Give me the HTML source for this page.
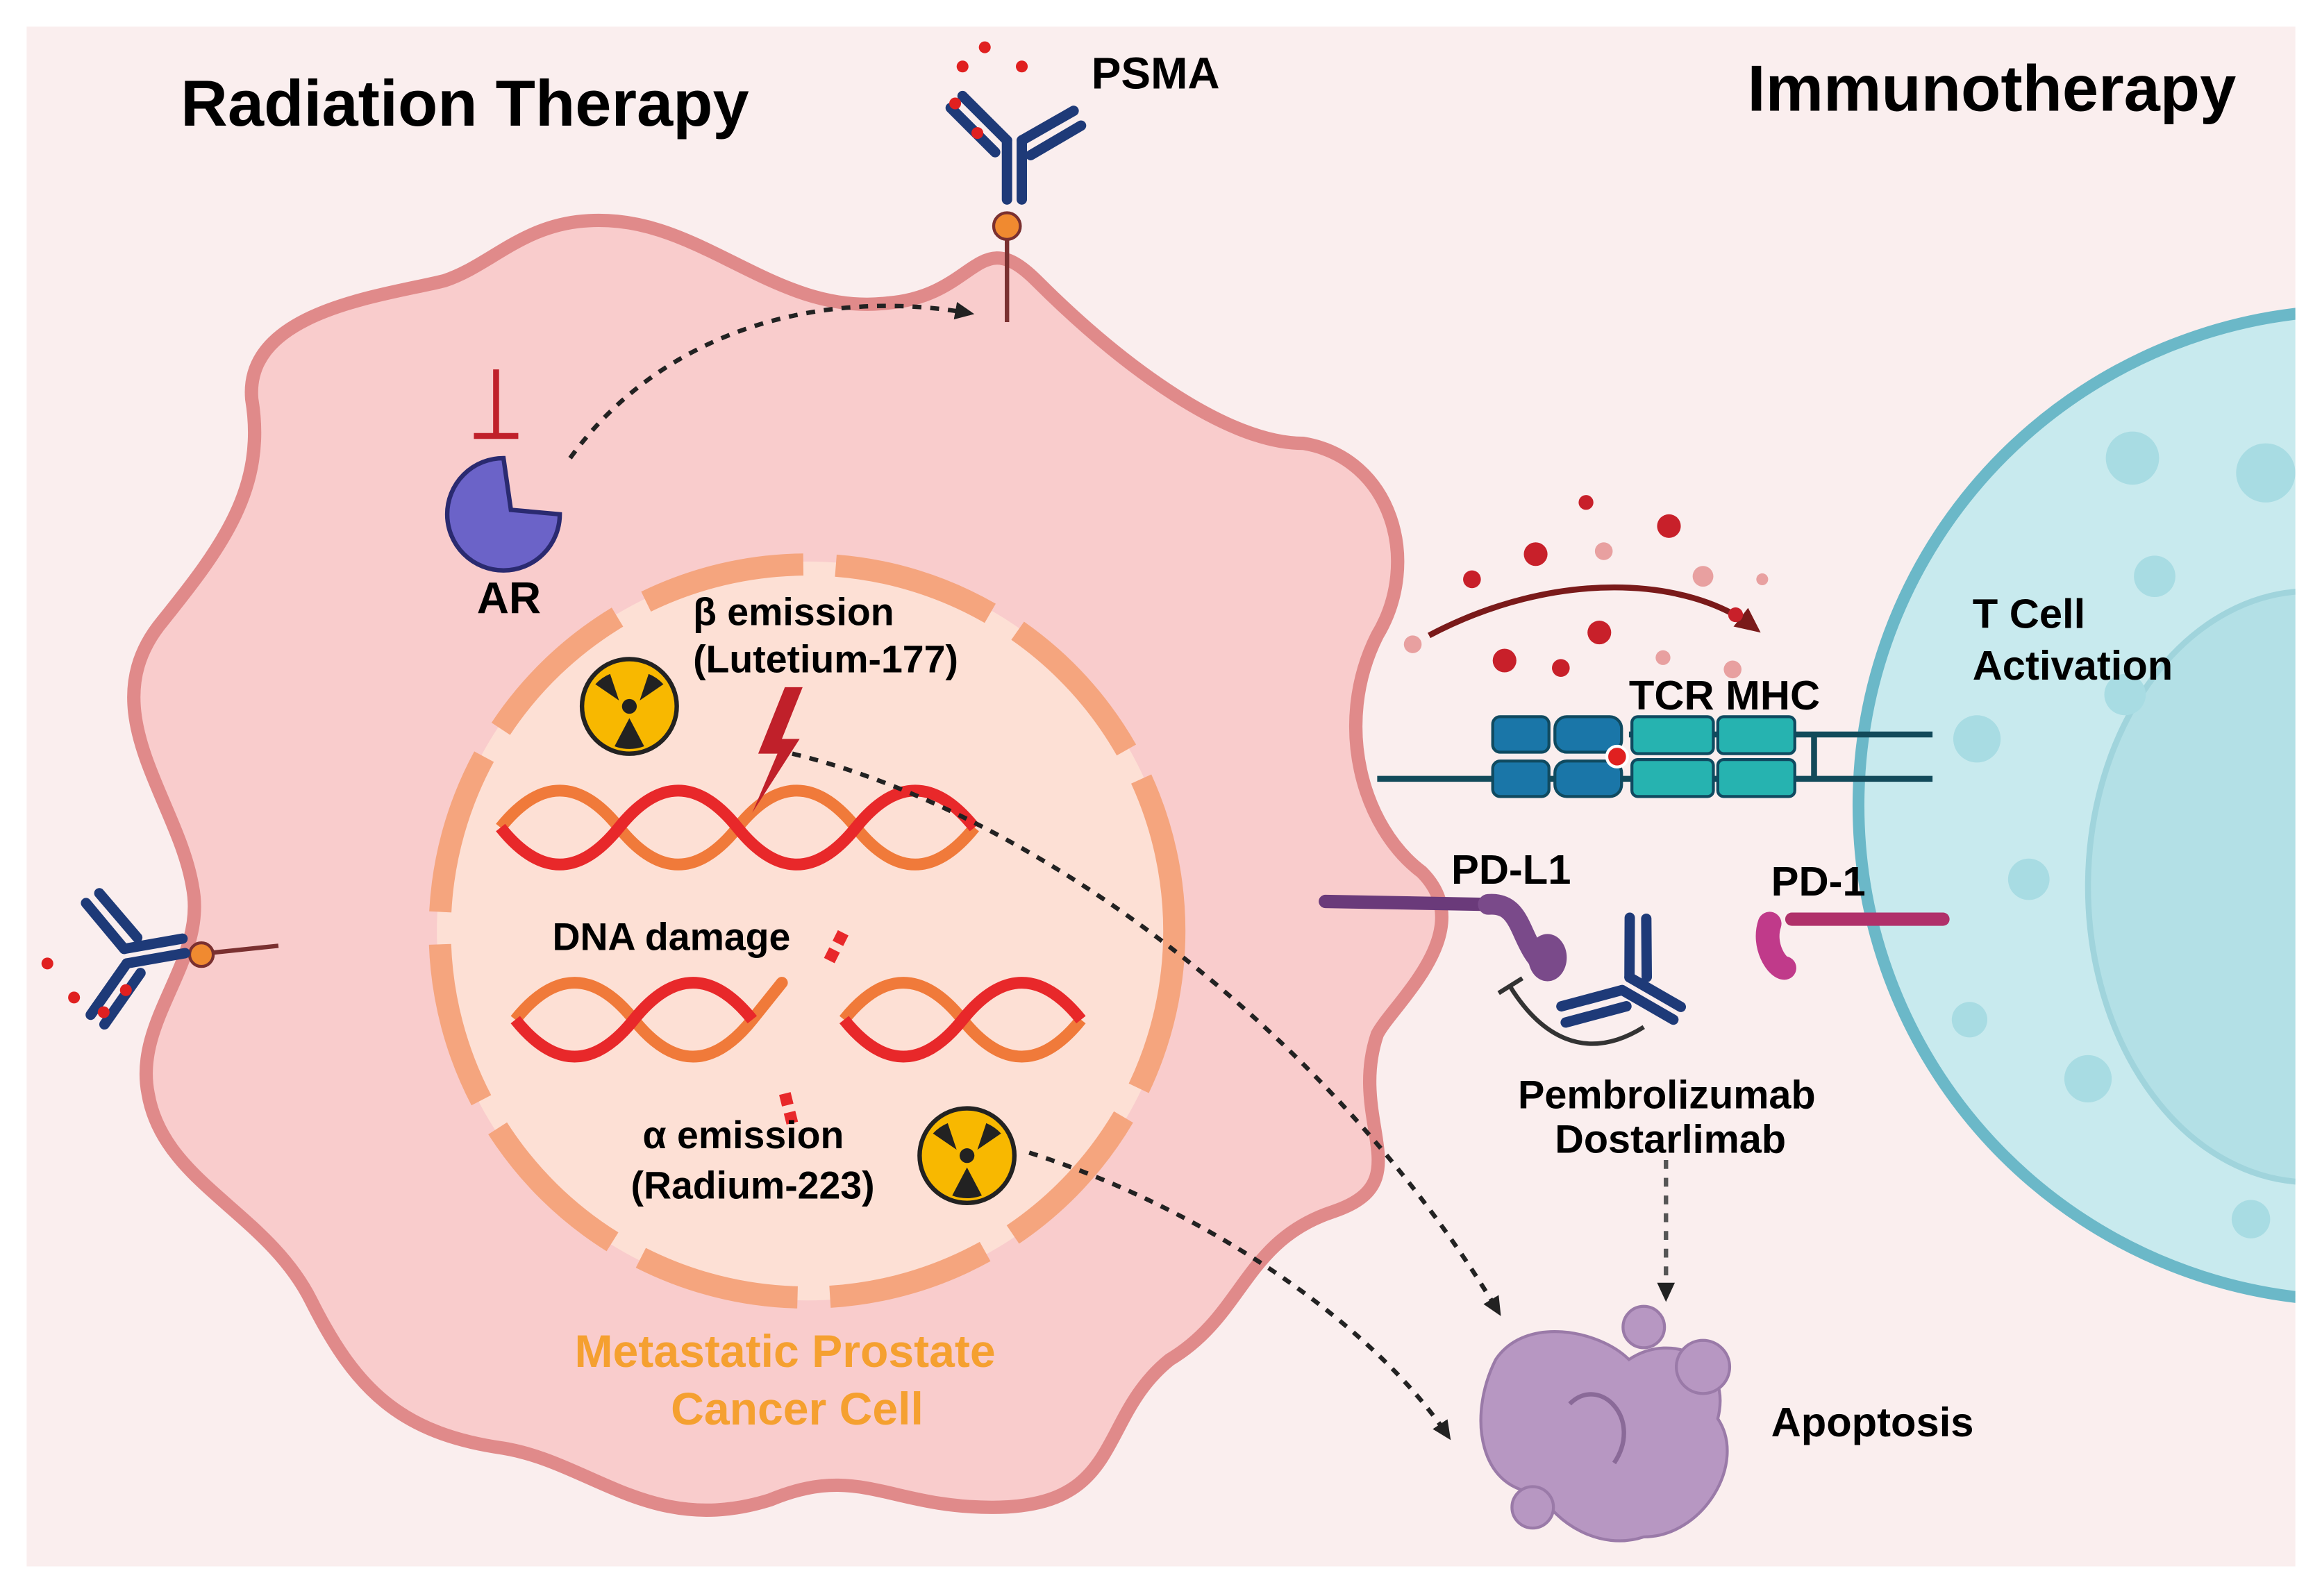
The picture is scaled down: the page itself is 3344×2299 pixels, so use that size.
<!DOCTYPE html>
<html><head><meta charset="utf-8"><style>
html,body{margin:0;padding:0;background:#fff}
svg{display:block}
text{font-family:"Liberation Sans",sans-serif;font-weight:bold}
</style></head><body>
<svg width="3344" height="2299" viewBox="0 0 1568 1080" preserveAspectRatio="none" xmlns="http://www.w3.org/2000/svg">
<defs>
<marker id="ah" markerUnits="userSpaceOnUse" markerWidth="14" markerHeight="14" refX="10" refY="7" orient="auto"><path d="M0,1 L13,7 L0,13 Z" fill="#222"/></marker>
<marker id="ah2" markerUnits="userSpaceOnUse" markerWidth="18" markerHeight="18" refX="12" refY="9" orient="auto"><path d="M0,1 L17,9 L0,17 Z" fill="#7a1a1a"/></marker>
<clipPath id="pc"><rect x="18" y="18" width="1532" height="1042"/></clipPath>
<g id="rad"><circle r="32" fill="#f8b800" stroke="#222" stroke-width="3"/><circle r="5" fill="#222"/>
<path d="M0,-8 L-10,-27 A28,28 0 0 1 10,-27 Z M7,4 L23,15 A28,28 0 0 1 13,22 Z M-7,4 L-23,15 A28,28 0 0 0 -13,22 Z" fill="#222" transform="rotate(180)"/></g>
<g id="ab"><g fill="none" stroke="#1e3a78" stroke-width="7" stroke-linecap="round">
<path d="M0,0 L0,-40 M10,0 L10,-40"/><path d="M0,-40 L-30,-70 M-8,-32 L-38,-62"/><path d="M10,-40 L45,-60 M16,-30 L50,-50"/></g></g>
</defs>
<rect width="1568" height="1080" fill="#fff"/>
<rect x="18" y="18" width="1532" height="1042" fill="#faeeee"/>
<g clip-path="url(#pc)">
<circle cx="1590" cy="545" r="335" fill="#c8eaee" stroke="#6bb8c8" stroke-width="8"/>
<ellipse cx="1560" cy="600" rx="150" ry="200" fill="#b3e0e6" stroke="#a0d4dc" stroke-width="4"/>
<g fill="#a8dce3"><circle cx="1440" cy="310" r="18"/><circle cx="1530" cy="320" r="20"/><circle cx="1455" cy="390" r="14"/><circle cx="1335" cy="500" r="16"/><circle cx="1435" cy="470" r="14"/><circle cx="1370" cy="595" r="14"/><circle cx="1410" cy="730" r="16"/><circle cx="1330" cy="690" r="12"/><circle cx="1520" cy="825" r="13"/></g>
</g>
<path d="M390,150 C470,140 520,215 600,205 C660,200 660,150 700,190 C760,250 830,300 880,300 C940,310 960,380 930,430 C900,490 920,560 960,590 C1000,630 940,680 930,700 C910,760 960,800 900,820 C840,840 840,890 790,920 C740,960 760,1020 670,1020 C600,1020 580,990 520,1015 C440,1040 400,990 340,980 C270,970 240,940 210,880 C180,820 110,800 100,740 C90,690 140,650 130,600 C120,540 60,480 110,420 C150,370 180,330 170,270 C165,210 260,200 300,190 C330,180 350,155 390,150 Z" fill="#f9cccc" stroke="#e08a8a" stroke-width="9"/>
<circle cx="545" cy="630" r="250" fill="#fde0d5"/>
<circle cx="545" cy="630" r="248" fill="none" stroke="#f5a57e" stroke-width="15" stroke-dasharray="110 22"/>
<g fill="none" stroke-width="8">
<path d="M338,560 q40,-50 80,0 t80,0 t80,0 t80,0" stroke="#f07a3a"/>
<path d="M338,560 q40,50 80,0 t80,0 t80,0 t80,0" stroke="#e8282a"/>
<path d="M348,690 q40,-50 80,0 t80,0 t0,0" stroke="#f07a3a"/>
<path d="M348,690 q40,50 80,0 t80,0" stroke="#e8282a"/>
<path d="M570,690 q40,-50 80,0 t80,0" stroke="#f07a3a"/>
<path d="M570,690 q40,50 80,0 t80,0" stroke="#e8282a"/>
<path d="M530,740 l5,20 M560,650 l10,-20" stroke="#e8282a" stroke-dasharray="8 5"/>
</g>
<path d="M530,465 L512,510 L525,510 L508,550 L540,500 L528,500 L542,465 Z" fill="#c0202a"/>
<use href="#rad" x="425" y="478"/>
<use href="#rad" x="653" y="782"/>
<path d="M340,310 A38,38 0 1 0 378,348 L345,345 Z" fill="#6b63c8" stroke="#2a2a70" stroke-width="3"/>
<path d="M335,250 L335,295 M320,295 L350,295" stroke="#c0202a" stroke-width="4"/>
<text x="322" y="415" font-size="30">AR</text>
<path d="M680,160 L680,218" stroke="#7a3030" stroke-width="3"/>
<circle cx="680" cy="153" r="9" fill="#f08a30" stroke="#7a3030" stroke-width="2"/>
<use href="#ab" x="680" y="135"/>
<g fill="#e02020"><circle cx="650" cy="45" r="4"/><circle cx="665" cy="32" r="4"/><circle cx="690" cy="45" r="4"/><circle cx="660" cy="90" r="4"/><circle cx="645" cy="70" r="4"/></g>
<text x="737" y="60" font-size="30">PSMA</text>
<path d="M140,645 L188,640" stroke="#7a3030" stroke-width="3"/>
<circle cx="136" cy="646" r="8" fill="#f08a30" stroke="#7a3030" stroke-width="2"/>
<use href="#ab" transform="translate(125,645) rotate(-100)"/>
<g fill="#e02020"><circle cx="32" cy="652" r="4"/><circle cx="50" cy="675" r="4"/><circle cx="70" cy="685" r="4"/><circle cx="85" cy="670" r="4"/></g>
<g fill="none" stroke="#222" stroke-width="3" stroke-dasharray="6 6">
<path d="M385,310 C450,220 560,195 655,212" marker-end="url(#ah)"/>
<path d="M535,510 C700,550 900,700 1012,888" marker-end="url(#ah)"/>
<path d="M695,780 C820,820 930,900 978,972" marker-end="url(#ah)"/>
<path d="M1125,785 L1125,878" marker-end="url(#ah)" stroke="#555"/>
</g>
<path d="M965,430 C1050,385 1140,390 1185,425" fill="none" stroke="#7a1a1a" stroke-width="4" marker-end="url(#ah2)"/>
<g fill="#c8202a"><circle cx="1037" cy="375" r="8"/><circle cx="1127" cy="356" r="8"/><circle cx="1080" cy="428" r="8"/><circle cx="1016" cy="447" r="8"/><circle cx="994" cy="392" r="6"/><circle cx="1172" cy="416" r="5"/><circle cx="1054" cy="452" r="6"/><circle cx="1071" cy="340" r="5"/></g>
<g fill="#e8a0a0"><circle cx="954" cy="436" r="6"/><circle cx="1150" cy="390" r="7"/><circle cx="1083" cy="373" r="6"/><circle cx="1190" cy="392" r="4"/><circle cx="1123" cy="445" r="5"/><circle cx="1170" cy="453" r="6"/></g>
<path d="M930,527 L1305,527 M1100,497 L1305,497 M1225,497 L1225,527" stroke="#124a5a" stroke-width="4"/>
<g stroke="#0f4a60" stroke-width="2"><rect x="1008" y="485" width="38" height="24" rx="5" fill="#1a76a8"/><rect x="1050" y="485" width="45" height="24" rx="8" fill="#1a76a8"/><rect x="1008" y="515" width="38" height="24" rx="5" fill="#1a76a8"/><rect x="1050" y="515" width="45" height="24" rx="8" fill="#1a76a8"/>
<rect x="1102" y="485" width="55" height="25" rx="4" fill="#26b3b0"/><rect x="1160" y="485" width="52" height="25" rx="4" fill="#26b3b0"/><rect x="1102" y="514" width="55" height="25" rx="4" fill="#26b3b0"/><rect x="1160" y="514" width="52" height="25" rx="4" fill="#26b3b0"/></g>
<circle cx="1092" cy="512" r="7" fill="#e02020" stroke="#fff" stroke-width="2"/>
<text x="1100" y="480" font-size="28">TCR MHC</text>
<path d="M895,610 L1005,612" stroke="#6a3a7a" stroke-width="9" stroke-linecap="round"/>
<path d="M1005,612 C1030,610 1025,640 1045,655" stroke="#7a4a8a" stroke-width="14" fill="none" stroke-linecap="round"/>
<ellipse cx="1045" cy="648" rx="13" ry="16" fill="#7a4a8a"/>
<path d="M1210,622 L1312,622" stroke="#b0306a" stroke-width="9" stroke-linecap="round"/>
<path d="M1195,625 C1190,640 1200,655 1205,655" stroke="#c03a8a" stroke-width="16" fill="none" stroke-linecap="round"/>
<use href="#ab" transform="translate(1130,690) rotate(-60)"/>
<path d="M1110,695 C1070,720 1040,700 1020,668" fill="none" stroke="#333" stroke-width="3"/>
<path d="M1012,672 L1028,662" stroke="#333" stroke-width="3"/>
<text x="980" y="598" font-size="28">PD-L1</text>
<text x="1196" y="606" font-size="28">PD-1</text>
<text x="1025" y="750" font-size="27">Pembrolizumab</text>
<text x="1050" y="780" font-size="27">Dostarlimab</text>
<g fill="#b797c2" stroke="#9a7aa8" stroke-width="2">
<path d="M1010,920 C1030,890 1080,900 1100,920 C1130,900 1170,920 1160,960 C1180,990 1150,1040 1110,1040 C1080,1050 1050,1030 1040,1010 C1000,1010 990,960 1010,920 Z"/>
<circle cx="1110" cy="898" r="14"/><circle cx="1150" cy="925" r="18"/><circle cx="1035" cy="1020" r="14"/>
</g>
<path d="M1060,950 C1080,930 1110,960 1090,990" fill="none" stroke="#8a6a98" stroke-width="3"/>
<text x="1196" y="972" font-size="28">Apoptosis</text>
<text x="122" y="85" font-size="44">Radiation Therapy</text>
<text x="1180" y="75" font-size="44">Immunotherapy</text>
<text x="1332" y="425" font-size="28">T Cell</text>
<text x="1332" y="460" font-size="28">Activation</text>
<text x="468" y="423" font-size="26">β emission</text>
<text x="468" y="455" font-size="26">(Lutetium-177)</text>
<text x="373" y="643" font-size="26">DNA damage</text>
<text x="434" y="777" font-size="26">α emission</text>
<text x="426" y="811" font-size="26">(Radium-223)</text>
<text x="388" y="925" font-size="31" fill="#f5a030">Metastatic Prostate</text>
<text x="453" y="964" font-size="31" fill="#f5a030">Cancer Cell</text>
</svg>
</body></html>
